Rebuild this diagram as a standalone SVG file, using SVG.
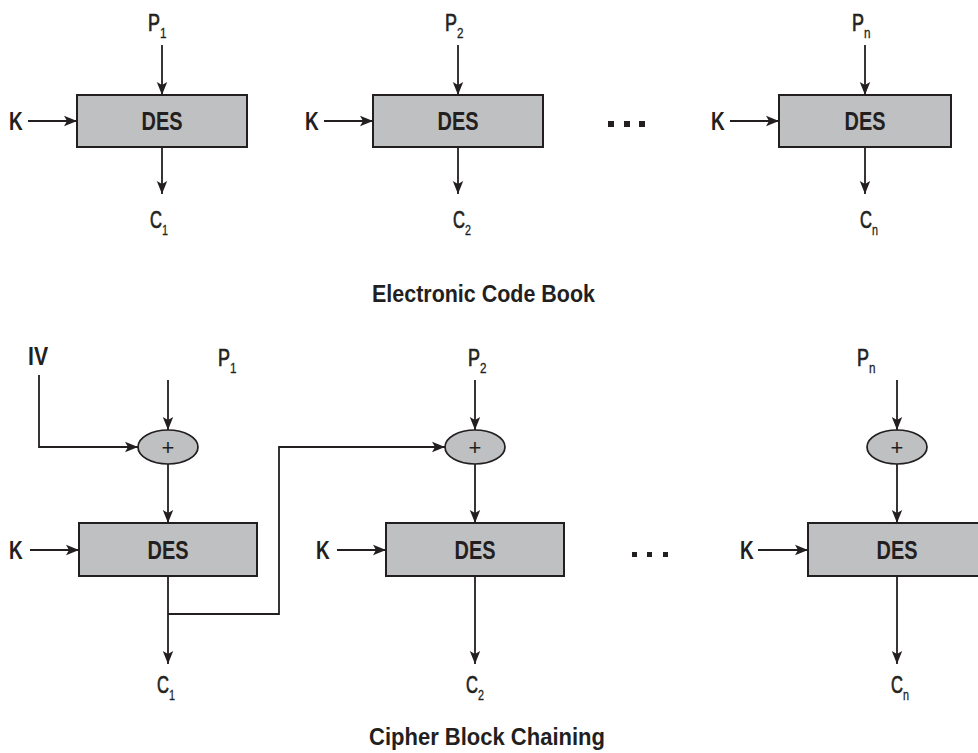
<svg xmlns="http://www.w3.org/2000/svg" width="978" height="753" viewBox="0 0 978 753">
<style>
  .t{font-family:"Liberation Sans","Arial",sans-serif;fill:#231f20;font-weight:bold}
  .lbl{font-size:23px;font-weight:normal;stroke:#231f20;stroke-width:0.7}
  .k{font-size:25px}
  .des{font-size:26px;text-anchor:middle}
  .title{font-size:24px;text-anchor:middle}
  .sub{font-size:15px;font-weight:normal;stroke-width:0.3}
  .plus{font-size:22px;font-weight:normal;text-anchor:middle}
  .box{fill:#bfc0c1;stroke:#231f20;stroke-width:2}
  .xor{fill:#bfc0c1;stroke:#231f20;stroke-width:1.7}
  .ln{fill:none;stroke:#231f20;stroke-width:1.8}
  .dot{fill:#231f20}
</style>
<defs>
  <marker id="ah" markerUnits="userSpaceOnUse" markerWidth="14" markerHeight="14" viewBox="0 0 14 14" refX="13" refY="7" orient="auto">
    <path d="M0,1.8 L13,7 L0,12.2 L3,7 z" fill="#231f20"/>
  </marker>
</defs>

<g id="connectors">
  <!-- ECB -->
  <line class="ln" x1="162" y1="45" x2="162" y2="95" marker-end="url(#ah)"/>
  <line class="ln" x1="162" y1="147" x2="162" y2="194" marker-end="url(#ah)"/>
  <line class="ln" x1="28" y1="121" x2="77" y2="121" marker-end="url(#ah)"/>
  <line class="ln" x1="458" y1="45" x2="458" y2="95" marker-end="url(#ah)"/>
  <line class="ln" x1="458" y1="147" x2="458" y2="194" marker-end="url(#ah)"/>
  <line class="ln" x1="324" y1="121" x2="373" y2="121" marker-end="url(#ah)"/>
  <line class="ln" x1="865" y1="45" x2="865" y2="95" marker-end="url(#ah)"/>
  <line class="ln" x1="865" y1="147" x2="865" y2="194" marker-end="url(#ah)"/>
  <line class="ln" x1="730" y1="121" x2="779" y2="121" marker-end="url(#ah)"/>
  <!-- CBC -->
  <polyline class="ln" points="39,375 39,447 138,447" marker-end="url(#ah)"/>
  <line class="ln" x1="168" y1="380" x2="168" y2="430" marker-end="url(#ah)"/>
  <line class="ln" x1="168" y1="464" x2="168" y2="523" marker-end="url(#ah)"/>
  <line class="ln" x1="30" y1="550" x2="79" y2="550" marker-end="url(#ah)"/>
  <line class="ln" x1="168" y1="576" x2="168" y2="664" marker-end="url(#ah)"/>
  <polyline class="ln" points="168,614 279,614 279,447 445,447" marker-end="url(#ah)"/>
  <line class="ln" x1="475" y1="380" x2="475" y2="430" marker-end="url(#ah)"/>
  <line class="ln" x1="475" y1="464" x2="475" y2="523" marker-end="url(#ah)"/>
  <line class="ln" x1="337" y1="550" x2="386" y2="550" marker-end="url(#ah)"/>
  <line class="ln" x1="475" y1="576" x2="475" y2="664" marker-end="url(#ah)"/>
  <line class="ln" x1="897" y1="380" x2="897" y2="430" marker-end="url(#ah)"/>
  <line class="ln" x1="897" y1="464" x2="897" y2="523" marker-end="url(#ah)"/>
  <line class="ln" x1="758" y1="550" x2="808" y2="550" marker-end="url(#ah)"/>
  <line class="ln" x1="897" y1="576" x2="897" y2="664" marker-end="url(#ah)"/>
</g>

<!-- ECB nodes -->
<g id="ecb-des1"><rect class="box" x="77" y="95" width="170" height="52"/><text class="t des" x="162" y="130" textLength="41" lengthAdjust="spacingAndGlyphs">DES</text></g>
<g id="ecb-des2"><rect class="box" x="373" y="95" width="170" height="52"/><text class="t des" x="458" y="130" textLength="41" lengthAdjust="spacingAndGlyphs">DES</text></g>
<g id="ecb-des3"><rect class="box" x="779" y="95" width="172" height="52"/><text class="t des" x="865" y="130" textLength="41" lengthAdjust="spacingAndGlyphs">DES</text></g>
<g id="ecb-p1"><text class="t lbl" transform="translate(148,31) scale(0.78,1)">P<tspan class="sub" dy="7">1</tspan></text></g>
<g id="ecb-p2"><text class="t lbl" transform="translate(445,31) scale(0.78,1)">P<tspan class="sub" dy="7">2</tspan></text></g>
<g id="ecb-pn"><text class="t lbl" transform="translate(852,31) scale(0.78,1)">P<tspan class="sub" dy="7">n</tspan></text></g>
<g id="ecb-c1"><text class="t lbl" transform="translate(150,228) scale(0.72,1)">C<tspan class="sub" dy="7">1</tspan></text></g>
<g id="ecb-c2"><text class="t lbl" transform="translate(453,228) scale(0.72,1)">C<tspan class="sub" dy="7">2</tspan></text></g>
<g id="ecb-cn"><text class="t lbl" transform="translate(860,228) scale(0.72,1)">C<tspan class="sub" dy="7">n</tspan></text></g>
<g id="ecb-k1"><text class="t k" transform="translate(9,130) scale(0.76,1)">K</text></g>
<g id="ecb-k2"><text class="t k" transform="translate(305,130) scale(0.76,1)">K</text></g>
<g id="ecb-k3"><text class="t k" transform="translate(711,130) scale(0.76,1)">K</text></g>
<g id="ecb-dots"><rect class="dot" x="608" y="121" width="6" height="6"/><rect class="dot" x="624" y="121" width="6" height="6"/><rect class="dot" x="639" y="121" width="6" height="6"/></g>
<g id="ecb-title"><text class="t title" x="483.5" y="302" textLength="223" lengthAdjust="spacingAndGlyphs">Electronic Code Book</text></g>

<!-- CBC nodes -->
<g id="cbc-iv"><text class="t k" transform="translate(28,365) scale(0.85,1)">IV</text></g>
<g id="cbc-p1"><text class="t lbl" transform="translate(218,366) scale(0.78,1)">P<tspan class="sub" dy="7">1</tspan></text></g>
<g id="cbc-p2"><text class="t lbl" transform="translate(468,366) scale(0.78,1)">P<tspan class="sub" dy="7">2</tspan></text></g>
<g id="cbc-pn"><text class="t lbl" transform="translate(857,366) scale(0.78,1)">P<tspan class="sub" dy="7">n</tspan></text></g>
<g id="cbc-xor1"><ellipse class="xor" cx="168" cy="447" rx="30" ry="17"/><text class="t plus" x="168" y="455">+</text></g>
<g id="cbc-xor2"><ellipse class="xor" cx="475" cy="447" rx="30" ry="17"/><text class="t plus" x="475" y="455">+</text></g>
<g id="cbc-xor3"><ellipse class="xor" cx="897" cy="447" rx="30" ry="17"/><text class="t plus" x="897" y="455">+</text></g>
<g id="cbc-des1"><rect class="box" x="79" y="523" width="178" height="53"/><text class="t des" x="168" y="559" textLength="41" lengthAdjust="spacingAndGlyphs">DES</text></g>
<g id="cbc-des2"><rect class="box" x="386" y="523" width="178" height="53"/><text class="t des" x="475" y="559" textLength="41" lengthAdjust="spacingAndGlyphs">DES</text></g>
<g id="cbc-des3"><rect class="box" x="808" y="523" width="180" height="53"/><text class="t des" x="897" y="559" textLength="41" lengthAdjust="spacingAndGlyphs">DES</text></g>
<g id="cbc-k1"><text class="t k" transform="translate(9,559) scale(0.76,1)">K</text></g>
<g id="cbc-k2"><text class="t k" transform="translate(316,559) scale(0.76,1)">K</text></g>
<g id="cbc-k3"><text class="t k" transform="translate(740,559) scale(0.76,1)">K</text></g>
<g id="cbc-c1"><text class="t lbl" transform="translate(157,693) scale(0.72,1)">C<tspan class="sub" dy="7">1</tspan></text></g>
<g id="cbc-c2"><text class="t lbl" transform="translate(466,693) scale(0.72,1)">C<tspan class="sub" dy="7">2</tspan></text></g>
<g id="cbc-cn"><text class="t lbl" transform="translate(891,693) scale(0.72,1)">C<tspan class="sub" dy="7">n</tspan></text></g>
<g id="cbc-dots"><rect class="dot" x="632" y="552" width="5" height="5"/><rect class="dot" x="647" y="552" width="5" height="5"/><rect class="dot" x="663" y="552" width="5" height="5"/></g>
<g id="cbc-title"><text class="t title" x="487" y="745" textLength="236" lengthAdjust="spacingAndGlyphs">Cipher Block Chaining</text></g>
</svg>
